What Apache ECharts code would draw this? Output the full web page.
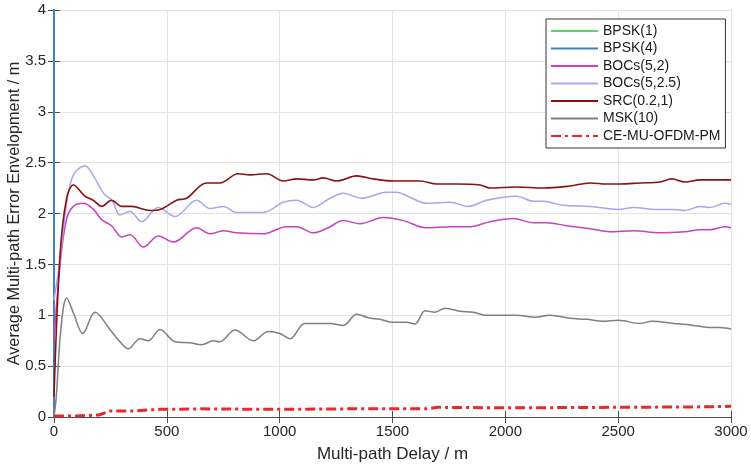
<!DOCTYPE html>
<html><head><meta charset="utf-8">
<script src="https://cdn.jsdelivr.net/npm/echarts@6/dist/echarts.min.js"></script>
<style>html,body{margin:0;padding:0;background:#fff}#c{width:751px;height:467px}</style>
</head><body><div id="c"></div>
<script>
// Data (delay in m, error envelope in m)
var bpsk1Delay = [0, 0];
var bpsk1Val   = [0, 4.5];
var bpsk4Delay = [0, 0];
var bpsk4Val   = [0, 4.5];
var boc52Delay = [0,27,56,86,130,175,211,255,300,337,396,462,529,632,691,750,809,927,1031,1075,1149,1215,1282,1356,1459,1548,1651,1755,1844,1932,2035,2124,2183,2272,2375,2464,2567,2685,2796,2863,2907,2973,3000];
var boc52Val   = [0.75,1.5,1.95,2.07,2.10,2.04,1.94,1.88,1.77,1.79,1.67,1.78,1.72,1.86,1.80,1.83,1.81,1.80,1.87,1.87,1.81,1.86,1.93,1.90,1.96,1.93,1.86,1.87,1.87,1.92,1.95,1.91,1.91,1.88,1.85,1.82,1.83,1.81,1.82,1.84,1.84,1.87,1.86];
var boc5225Delay = [0,27,56,86,137,180,219,260,292,337,388,462,536,632,691,750,809,927,1016,1075,1149,1215,1282,1363,1474,1518,1577,1651,1755,1836,1917,2050,2124,2168,2257,2375,2500,2567,2671,2745,2796,2863,2907,2973,3000];
var boc5225Val   = [1.15,1.55,2.1,2.38,2.47,2.35,2.20,2.12,1.985,2.02,1.92,2.06,1.97,2.13,2.05,2.07,2.01,2.01,2.11,2.13,2.06,2.14,2.20,2.15,2.21,2.21,2.16,2.10,2.11,2.07,2.13,2.17,2.12,2.12,2.08,2.07,2.04,2.06,2.04,2.04,2.03,2.07,2.06,2.10,2.09];
var srcDelay = [0,27,56,86,137,174,211,255,300,344,425,470,543,588,676,735,816,868,942,1016,1075,1149,1193,1252,1341,1415,1503,1621,1696,1784,1888,1932,2050,2168,2286,2375,2449,2508,2597,2685,2737,2796,2863,3000];
var srcVal   = [0.2,1.6,2.15,2.28,2.17,2.13,2.07,2.13,2.07,2.07,2.03,2.04,2.13,2.15,2.30,2.30,2.39,2.38,2.39,2.32,2.34,2.33,2.35,2.32,2.37,2.34,2.32,2.32,2.29,2.29,2.28,2.25,2.26,2.25,2.27,2.30,2.29,2.29,2.30,2.31,2.34,2.31,2.33,2.33];
var mskDelay = [0,10,30,56,90,127,182,248,292,329,381,418,470,536,602,654,706,735,802,883,950,1001,1046,1112,1223,1282,1341,1393,1444,1503,1562,1600,1644,1688,1733,1799,1858,1917,2050,2131,2198,2286,2360,2434,2500,2597,2649,2745,2834,2900,2951,3000];
var mskVal   = [0,0.2,0.85,1.17,1.0,0.82,1.03,0.86,0.74,0.67,0.77,0.75,0.86,0.74,0.73,0.71,0.75,0.74,0.855,0.75,0.84,0.82,0.77,0.92,0.92,0.90,1.01,0.975,0.96,0.93,0.93,0.915,1.045,1.03,1.07,1.04,1.03,1.00,1.00,0.98,1.00,0.97,0.96,0.94,0.95,0.92,0.94,0.92,0.90,0.88,0.88,0.865];
var ceDelay = [0,100,200,250,350,470,650,1000,1300,1650,1700,2000,2500,2900,3000];
var ceVal   = [0.01,0.01,0.02,0.06,0.06,0.075,0.08,0.075,0.08,0.08,0.095,0.09,0.095,0.10,0.105];
var xTicks = [0,500,1000,1500,2000,2500,3000];
var yTicks = [0,0.5,1,1.5,2,2.5,3,3.5,4];

function pairs(xs, ys){ return xs.map(function(x,i){ return [x, ys[i]]; }); }

var FONT = 'Liberation Sans, Arial, sans-serif';
var axisColor = '#4d4d4d';
var chart = echarts.init(document.getElementById('c'), null, {renderer:'canvas'});
function mk(name, xs, ys, color, width, smooth, type){
  return {name:name, type:'line', data:pairs(xs,ys), symbol:'none', smooth:smooth,
    lineStyle:{color:color, width:width, type:type||'solid'}, itemStyle:{color:color}, clip:true, animation:false};
}
chart.setOption({
  animation:false,
  backgroundColor:'#fff',
  grid:{left:54, right:20, top:10, bottom:50, containLabel:false, outerBoundsMode:'none'},
  legend:{
    orient:'vertical', left:546, top:19, width:168,
    backgroundColor:'#fff', borderColor:'#333', borderWidth:1,
    padding:[5,5,5,4], itemWidth:47, itemHeight:10, itemGap:3.5,
    itemStyle:{opacity:0},
    textStyle:{fontFamily:FONT, fontSize:14, color:'#1a1a1a', lineHeight:14},
    data:['BPSK(1)','BPSK(4)','BOCs(5,2)','BOCs(5,2.5)','SRC(0.2,1)','MSK(10)','CE-MU-OFDM-PM']
  },
  xAxis:[{
    type:'value', min:0, max:3000, interval:500,
    name:'Multi-path Delay / m', nameLocation:'middle', nameGap:29, nameMoveOverlap:false,
    nameTextStyle:{fontFamily:FONT, fontSize:17, color:'#262626'},
    axisLine:{show:true, onZero:false, lineStyle:{color:axisColor, width:1}},
    axisTick:{show:true, inside:true, length:6, lineStyle:{color:axisColor}},
    axisLabel:{fontFamily:FONT, fontSize:15, color:'#262626', margin:7,
      formatter:function(v){ return String(v); }},
    splitLine:{show:true, lineStyle:{color:'#e3e3e3', width:1}}
  },{
    type:'value', min:0, max:3000, interval:500, position:'top',
    axisLine:{show:true, lineStyle:{color:axisColor, width:1}},
    axisTick:{show:true, inside:true, length:6, lineStyle:{color:axisColor}},
    axisLabel:{show:false}, splitLine:{show:false}
  }],
  yAxis:[{
    type:'value', min:0, max:4, interval:0.5,
    name:'Average Multi-path Error Envelopment / m', nameLocation:'middle', nameGap:31, nameMoveOverlap:false,
    nameTextStyle:{fontFamily:FONT, fontSize:16.3, color:'#262626'},
    axisLine:{show:true, onZero:false, lineStyle:{color:axisColor, width:1}},
    axisTick:{show:true, inside:true, length:6, lineStyle:{color:axisColor}},
    axisLabel:{fontFamily:FONT, fontSize:15, color:'#262626', margin:8,
      formatter:function(v){ return String(v); }},
    splitLine:{show:true, lineStyle:{color:'#e3e3e3', width:1}}
  },{
    type:'value', min:0, max:4, interval:0.5, position:'right',
    axisLine:{show:true, lineStyle:{color:axisColor, width:1}},
    axisTick:{show:true, inside:true, length:6, lineStyle:{color:axisColor}},
    axisLabel:{show:false}, splitLine:{show:false}
  }],
  series:[
    mk('BPSK(1)', bpsk1Delay, bpsk1Val, '#5fd35f', 1.5, false),
    mk('BPSK(4)', bpsk4Delay, bpsk4Val, '#3f7fd0', 2, false),
    mk('BOCs(5,2)', boc52Delay, boc52Val, '#c940c0', 1.5, 0.35),
    mk('BOCs(5,2.5)', boc5225Delay, boc5225Val, '#a7a7ee', 1.5, 0.35),
    mk('SRC(0.2,1)', srcDelay, srcVal, '#8b1212', 1.6, 0.35),
    mk('MSK(10)', mskDelay, mskVal, '#7f7f7f', 1.5, 0.35),
    mk('CE-MU-OFDM-PM', ceDelay, ceVal, '#e8282a', 3, false, [10,4,3,4])
  ]
});
</script></body></html>
